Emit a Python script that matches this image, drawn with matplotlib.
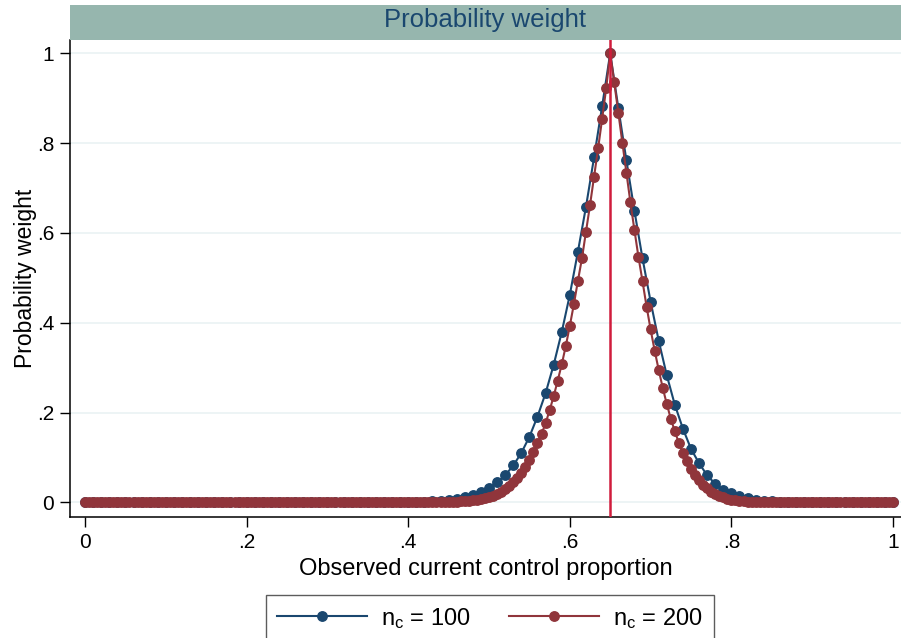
import numpy as np
import matplotlib
matplotlib.use("Agg")
import matplotlib.pyplot as plt
from matplotlib.patches import Rectangle

plt.rcParams['font.family'] = ['Liberation Sans', 'DejaVu Sans']
plt.rcParams['mathtext.fontset'] = 'custom'
plt.rcParams['mathtext.rm'] = 'Liberation Sans'
plt.rcParams['mathtext.it'] = 'Liberation Sans:italic'

# ---- data ----
title_text = "Probability weight"
x_label = "Observed current control proportion"
y_label = "Probability weight"
series_labels = [r"n$_{\rm c}$ = 100", r"n$_{\rm c}$ = 200"]
tick_values = [0, 0.2, 0.4, 0.6, 0.8, 1.0]
tick_labels = ["0", ".2", ".4", ".6", ".8", "1"]
ref_line_x = 0.65

# n_c = 100, evaluated at x = 0, 0.01, ..., 1
w100 = [0, 0, 0, 0, 0, 0, 0, 0, 0, 0,
        0, 0, 0, 0, 0, 0, 0, 0, 0, 0,
        0, 0, 0, 0, 0, 0, 0, 0, 0, 0,
        0, 0, 0, 0, 0, 0, 0.0001, 0.0002, 0.0003, 0.0005,
        0.0008, 0.0012, 0.0018, 0.0027, 0.004, 0.006, 0.0085, 0.012, 0.017, 0.023,
        0.031, 0.045, 0.060, 0.082, 0.110, 0.146, 0.191, 0.243, 0.306, 0.379,
        0.462, 0.558, 0.658, 0.768, 0.882, 1.0, 0.879, 0.762, 0.649, 0.543,
        0.447, 0.360, 0.283, 0.217, 0.164, 0.119, 0.087, 0.060, 0.041, 0.028,
        0.020, 0.014, 0.009, 0.006, 0.0038, 0.0024, 0.0015, 0.0009, 0.0005, 0.0003,
        0.0002, 0.0001, 0, 0, 0, 0, 0, 0, 0, 0,
        0]

# n_c = 200, evaluated at x = 0, 0.005, ..., 1
w200 = [0, 0, 0, 0, 0, 0, 0, 0, 0, 0,
        0, 0, 0, 0, 0, 0, 0, 0, 0, 0,
        0, 0, 0, 0, 0, 0, 0, 0, 0, 0,
        0, 0, 0, 0, 0, 0, 0, 0, 0, 0,
        0, 0, 0, 0, 0, 0, 0, 0, 0, 0,
        0, 0, 0, 0, 0, 0, 0, 0, 0, 0,
        0, 0, 0, 0, 0, 0, 0, 0, 0, 0,
        0, 0, 0, 0, 0, 0, 0, 0, 0, 0,
        0, 0, 0, 0, 0, 0.0001, 0.0002, 0.0003, 0.0004, 0.0006,
        0.0008, 0.0011, 0.0015, 0.002, 0.0027, 0.0035, 0.0045, 0.006, 0.0075, 0.0095,
        0.012, 0.015, 0.019, 0.024, 0.030, 0.037, 0.045, 0.055, 0.066, 0.079,
        0.094, 0.111, 0.131, 0.152, 0.176, 0.205, 0.236, 0.271, 0.307, 0.348,
        0.393, 0.441, 0.493, 0.543, 0.603, 0.662, 0.725, 0.788, 0.854, 0.922,
        1.0, 0.935, 0.868, 0.800, 0.733, 0.668, 0.606, 0.546, 0.492, 0.436,
        0.385, 0.338, 0.295, 0.255, 0.219, 0.186, 0.158, 0.132, 0.110, 0.091,
        0.075, 0.061, 0.049, 0.039, 0.031, 0.024, 0.019, 0.014, 0.011, 0.008,
        0.006, 0.0045, 0.0033, 0.0024, 0.0017, 0.0012, 0.0008, 0.0006, 0.0004, 0.0003,
        0.0002, 0.0001, 0, 0, 0, 0, 0, 0, 0, 0,
        0, 0, 0, 0, 0, 0, 0, 0, 0, 0,
        0, 0, 0, 0, 0, 0, 0, 0, 0, 0,
        0]

x100 = np.linspace(0, 1, len(w100))
x200 = np.linspace(0, 1, len(w200))

# ---- styling ----
c_blue = "#1a476f"
c_red = "#90353b"
c_vline = "#d01c3c"
c_title_bg = "#96b6ae"
c_grid = "#eaf2f3"

W, H = 901, 638
fig = plt.figure(figsize=(W / 100, H / 100), dpi=100)

ax_l, ax_r, ax_t, ax_b = 70, 901, 40, 517
ax = fig.add_axes([ax_l / W, 1 - ax_b / H, (ax_r - ax_l) / W, (ax_b - ax_t) / H])

# title band
fig.patches.append(Rectangle((ax_l / W, 1 - 40 / H), (ax_r - ax_l) / W, 35 / H,
                             transform=fig.transFigure, facecolor=c_title_bg,
                             edgecolor='none', zorder=0))
fig.text((ax_l + ax_r) / 2 / W, 1 - 20 / H, title_text, ha='center', va='center',
         fontsize=18.5, color=c_blue)

ax.set_xlim(-0.0186, 1.0099)
ax.set_ylim(-0.0327, 1.0296)

for t in tick_values:
    ax.axhline(t, color=c_grid, lw=1.2, zorder=0)

ms = 6.8
ax.plot(x100, w100, color=c_blue, lw=1.5, marker='o', ms=ms, mec=c_blue,
        mfc=c_blue, label=series_labels[0], zorder=3)
ax.plot(x200, w200, color=c_red, lw=1.5, marker='o', ms=ms, mec=c_red,
        mfc=c_red, label=series_labels[1], zorder=4)
ax.axvline(ref_line_x, color=c_vline, lw=1.8, zorder=5)

ax.set_xticks(tick_values)
ax.set_xticklabels(tick_labels)
ax.set_yticks(tick_values)
ax.set_yticklabels(tick_labels)
ax.tick_params(axis='both', direction='out', length=7.5, width=1, labelsize=15,
               color='black', pad=4)

for s in ['top', 'right']:
    ax.spines[s].set_visible(False)
for s in ['left', 'bottom']:
    ax.spines[s].set_linewidth(1.1)
    ax.spines[s].set_color('black')

ax.set_xlabel(x_label, fontsize=17, labelpad=4)
ax.set_ylabel(y_label, fontsize=16.5, labelpad=0)

leg = fig.legend(loc='upper center', bbox_to_anchor=(490 / W, 1 - 595 / H),
                 ncol=2, fontsize=17, frameon=True, fancybox=False,
                 handlelength=3.8, columnspacing=1.65, handletextpad=0.6,
                 borderpad=0.45, borderaxespad=0)
leg.get_frame().set_edgecolor('#333333')
leg.get_frame().set_linewidth(1.0)
for h in leg.legend_handles:
    h.set_markersize(ms)

fig.savefig("out.png", dpi=100)
